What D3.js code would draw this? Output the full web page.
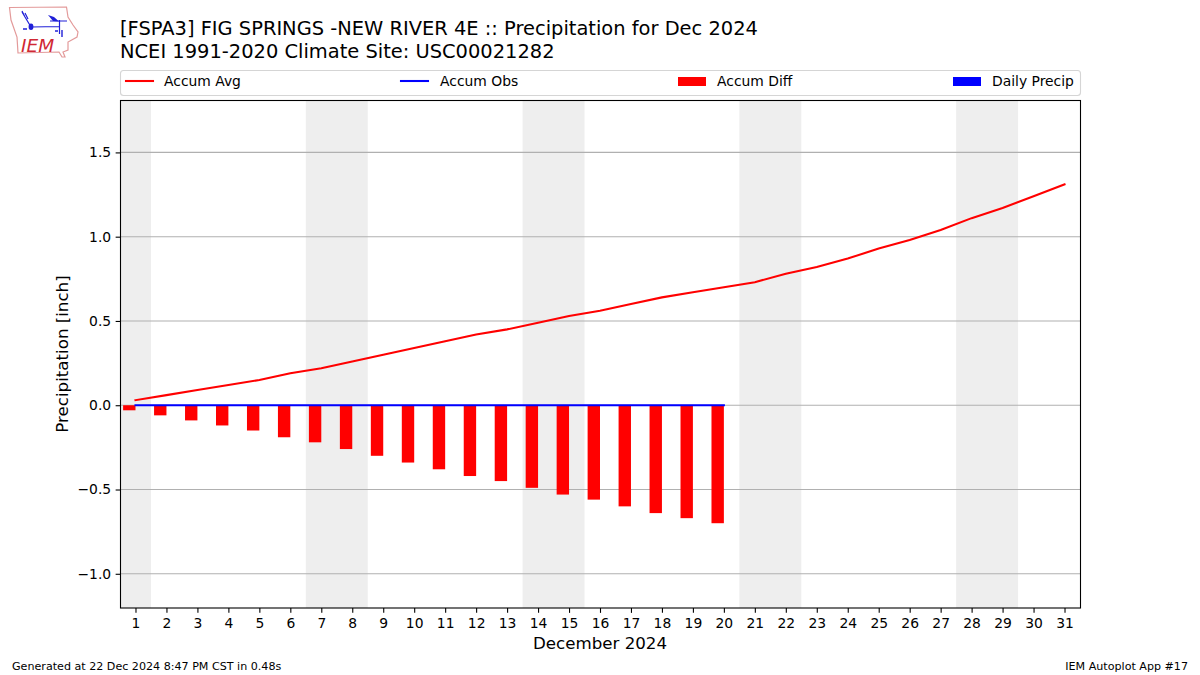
<!DOCTYPE html>
<html><head><meta charset="utf-8">
<script src="https://cdn.jsdelivr.net/npm/d3@7"></script>
<style>html,body{margin:0;padding:0;background:#fff}svg{display:block}text{font-family:"DejaVu Sans";fill:#000}</style>
</head><body><svg id="c" width="1200" height="675"></svg>
<script>
const days = d3.range(1, 32);
const accumAvg = [0.03,0.06,0.09,0.12,0.15,0.19,0.22,0.26,0.30,0.34,0.38,0.42,0.45,0.49,0.53,0.56,0.60,0.64,0.67,0.70,0.73,0.78,0.82,0.87,0.93,0.98,1.04,1.11,1.17,1.24,1.31];
const accumObs = [0,0,0,0,0,0,0,0,0,0,0,0,0,0,0,0,0,0,0,0];
const accumDiff = [-0.03,-0.06,-0.09,-0.12,-0.15,-0.19,-0.22,-0.26,-0.30,-0.34,-0.38,-0.42,-0.45,-0.49,-0.53,-0.56,-0.60,-0.64,-0.67,-0.70];
const dailyPrecip = [0,0,0,0,0,0,0,0,0,0,0,0,0,0,0,0,0,0,0,0];
const weekends = [[0.5,1.5],[6.5,8.5],[13.5,15.5],[20.5,22.5],[27.5,29.5]];
const yTicks = [-1.0,-0.5,0,0.5,1.0,1.5];
const legendItems = ["Accum Avg","Accum Obs","Accum Diff","Daily Precip"];
const titleLines = ["[FSPA3] FIG SPRINGS -NEW RIVER 4E :: Precipitation for Dec 2024","NCEI 1991-2020 Climate Site: USC00021282"];

const L=120,R=1080,T=100.5,B=608;
const svg=d3.select("#c");
const x=d3.scaleLinear().domain([0.5,31.5]).range([L,R]);
const y=d3.scaleLinear().domain([-1.203,1.808]).range([B,T]);
const pl=svg.append("g");
pl.selectAll("rect.w").data(weekends).join("rect").attr("class","w")
  .attr("x",d=>x(d[0])).attr("width",d=>x(d[1])-x(d[0])).attr("y",T).attr("height",B-T).attr("fill","#eeeeee");
pl.selectAll("line.g").data(yTicks).join("line").attr("class","g")
  .attr("x1",L).attr("x2",R).attr("y1",d=>y(d)).attr("y2",d=>y(d)).attr("stroke","#b0b0b0").attr("stroke-width",1.1);
const barW=x(1.4)-x(1);
pl.selectAll("rect.d").data(accumDiff).join("rect").attr("class","d")
  .attr("x",(d,i)=>x(days[i])-barW).attr("width",barW)
  .attr("y",d=>y(Math.max(0,d))).attr("height",d=>Math.abs(y(d)-y(0))).attr("fill","#ff0000");
pl.selectAll("rect.p").data(dailyPrecip).join("rect").attr("class","p")
  .attr("x",(d,i)=>x(days[i])).attr("width",barW)
  .attr("y",d=>y(d)).attr("height",d=>y(0)-y(d)).attr("fill","#0000ff");
const ln=d3.line().x((d,i)=>x(days[i])).y(d=>y(d));
pl.append("path").attr("d",ln(accumAvg)).attr("fill","none").attr("stroke","#ff0000").attr("stroke-width",2.08).attr("stroke-linecap","square");
pl.append("path").attr("d",ln(accumObs)).attr("fill","none").attr("stroke","#0000ff").attr("stroke-width",2.08).attr("stroke-linecap","square");

const ax=d3.axisBottom(x).tickValues(days).tickFormat(d3.format("d")).tickSize(4.86).tickPadding(5.5);
const gx=svg.append("g").attr("transform",`translate(0,${B})`).call(ax);
const ay=d3.axisLeft(y).tickValues(yTicks).tickFormat(d=>d3.format(".1f")(d).replace("-","\u2212")).tickSize(4.86).tickPadding(4.5);
const gy=svg.append("g").attr("transform",`translate(120.5,0)`).call(ay);
[gx,gy].forEach(g=>{g.select(".domain").remove();g.selectAll("line").attr("stroke","#000").attr("stroke-width",1.1);
  g.selectAll("text").attr("font-size",13.89).attr("font-family","DejaVu Sans").attr("fill","#000");});
svg.append("rect").attr("x",120.5).attr("y",T).attr("width",960).attr("height",B-T).attr("fill","none").attr("stroke","#000").attr("stroke-width",1.1);

svg.append("text").attr("x",600).attr("y",649).attr("text-anchor","middle").attr("font-size",16.67).text("December 2024");
svg.append("text").attr("transform","translate(67.5,354) rotate(-90)").attr("text-anchor","middle").attr("font-size",16.67).text("Precipitation [inch]");
svg.selectAll("text.t").data(titleLines).join("text").attr("class","t").attr("x",120).attr("y",(d,i)=>35+i*22.5).attr("font-size",19.44).text(d=>d);
svg.append("text").attr("x",12).attr("y",670).attr("font-size",11.11).text("Generated at 22 Dec 2024 8:47 PM CST in 0.48s");
svg.append("text").attr("x",1188).attr("y",670).attr("text-anchor","end").attr("font-size",11.11).text("IEM Autoplot App #17");

// legend
svg.append("rect").attr("x",120.5).attr("y",70.5).attr("width",960).attr("height",25).attr("rx",3).attr("fill","#fff").attr("stroke","#d5d5d5").attr("stroke-width",1.1);
const lx=[126,401,678,953], tx=[164,440,717,992];
legendItems.forEach((s,i)=>{
  if(i<2) svg.append("line").attr("x1",lx[i]).attr("x2",lx[i]+27).attr("y1",81).attr("y2",81).attr("stroke",i==0?"#ff0000":"#0000ff").attr("stroke-width",2.08).attr("stroke-linecap","square");
  else svg.append("rect").attr("x",lx[i]).attr("y",77).attr("width",28).attr("height",9).attr("fill",i==2?"#ff0000":"#0000ff");
  svg.append("text").attr("x",tx[i]).attr("y",86).attr("font-size",13.89).text(s);
});

// logo
const logo=svg.append("g");
logo.append("path").attr("d","M9.5 7.5 L66.5 7 L68 17 L73 25 L78 32 L77 37 L68 42 L68 50 L63 52 L65 57 L62 57 L59 52 L18 53 L17 37 L11 20 Z")
  .attr("fill","none").attr("stroke","#e39a9a").attr("stroke-width",1.2);
logo.append("text").attr("x",21).attr("y",51.5).attr("font-family","Liberation Serif").attr("font-style","italic").attr("font-size",18.5).style("fill","#d02834").text("IEM");
const b="#2020d8";
logo.append("path").attr("d","M31 27 L60 26.5 M59.5 20 L59.5 34 M22 12 L31 27 M22 11 L25 17 M25 13 L28 19 M50 21 L67 21").attr("fill","none").attr("stroke",b).attr("stroke-width",1.2);
logo.append("ellipse").attr("cx",31).attr("cy",26.7).attr("rx",2.4).attr("ry",3.3).attr("fill",b);
logo.append("path").attr("d","M48 15 L54 17 L59 21.5 L53 21 Z").attr("fill",b);
logo.append("path").attr("d","M23 29 h4 M55 31 h3 M62 30 v7").attr("stroke",b).attr("stroke-width",1.4).attr("fill","none");
</script></body></html>
